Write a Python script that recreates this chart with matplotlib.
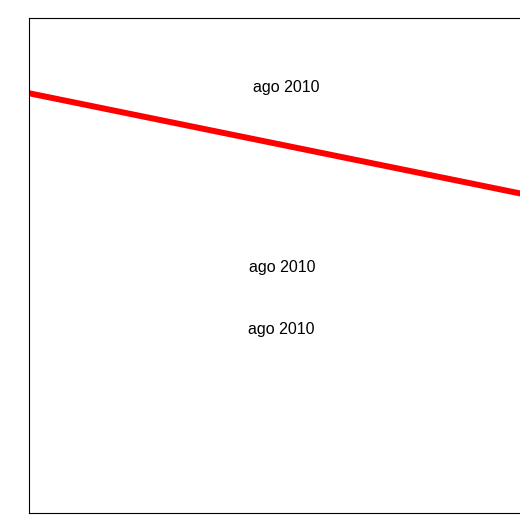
import matplotlib.pyplot as plt

# line values (axes units, 0..1)
line_x = [0.0, 1.0]
line_y = [0.848, 0.644]

# text labels and where they sit
labels = ["ago 2010", "ago 2010", "ago 2010"]
label_x = [0.519, 0.511, 0.509]
label_y = [0.859, 0.495, 0.370]

plt.rcParams["font.family"] = ["Liberation Sans", "DejaVu Sans"]

fig = plt.figure(figsize=(5.2, 5.16), dpi=100)
ax = fig.add_axes([29 / 520, 3 / 516, 495 / 520, 495 / 516])

ax.plot(line_x, line_y, color="red", linewidth=4.3, solid_capstyle="butt")

for t, x, y in zip(labels, label_x, label_y):
    ax.text(x, y, t, ha="center", va="center", fontsize=11.5, color="black")

ax.set_xlim(0, 1)
ax.set_ylim(0, 1)
ax.set_xticks([])
ax.set_yticks([])
for s in ax.spines.values():
    s.set_linewidth(0.8)

fig.savefig("out.png", dpi=100)
